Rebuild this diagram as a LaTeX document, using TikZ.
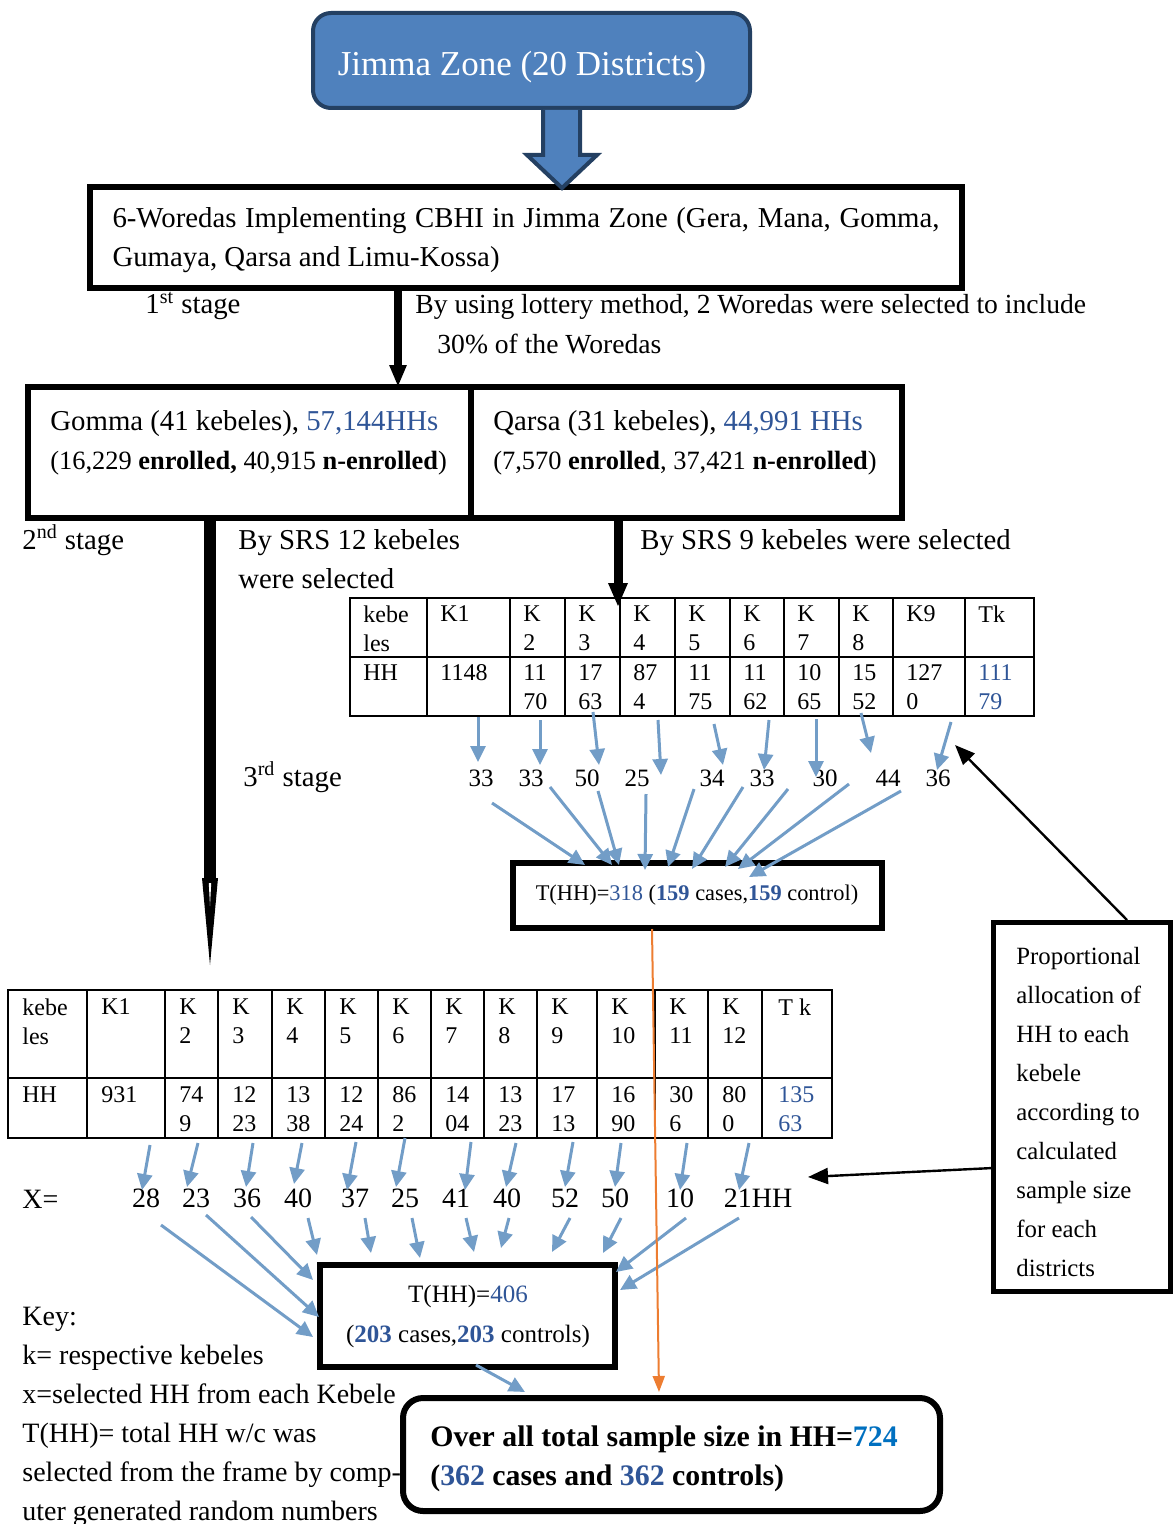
\documentclass[tikz,border=0pt]{standalone}
\usepackage{fontspec}
\setmainfont{Liberation Serif}
\usepackage{tikz}
\usetikzlibrary{positioning,arrows.meta}
\tikzstyle{pixelGrid} = [x = .5pt, y = -.5pt]
\definecolor{zoneFill}{RGB}{79,129,189}
\definecolor{zoneLine}{RGB}{36,64,98}
\definecolor{countBlue}{RGB}{47,85,151}
\definecolor{totalBlue}{RGB}{0,112,192}
\definecolor{pickBlue}{RGB}{114,157,199}
\definecolor{sumOrange}{RGB}{237,125,49}
\tikzstyle{zoneStyle} = [draw=zoneLine, fill=zoneFill, line width=2pt, rounded corners=9pt]
\tikzstyle{zoneText} = [text=white, font=\fontsize{17.5}{21}\selectfont, inner sep=0pt]
\tikzstyle{blockArrowStyle} = [draw=zoneLine, fill=zoneFill, line width=2pt, line join=miter]
\tikzstyle{frameStyle} = [draw, line width=3pt, inner sep=0pt]
\tikzstyle{thinFrameStyle} = [draw, line width=2.5pt, inner sep=0pt]
\tikzstyle{roundFrameStyle} = [draw, line width=3pt, inner sep=0pt, rounded corners=10pt]
\tikzstyle{bodyText} = [font=\fontsize{14.4}{19.5}\selectfont, anchor=base west, inner sep=0pt]
\tikzstyle{splitText} = [font=\fontsize{13.2}{19.5}\selectfont, anchor=base west, inner sep=0pt]
\tikzstyle{keyText} = [font=\fontsize{14}{19.5}\selectfont, anchor=base west, inner sep=0pt]
\tikzstyle{totalText} = [font=\bfseries\fontsize{14.9}{19.5}\selectfont, anchor=base west, inner sep=0pt]
\tikzstyle{boxText} = [font=\fontsize{12.5}{20}\selectfont, inner sep=0pt, align=center]
\tikzstyle{cellStyle} = [font=\fontsize{12}{14.5}\selectfont, anchor=north west, inner sep=0pt, align=left]
\tikzstyle{tableLine} = [line width=.8pt]
\tikzstyle{pickNumber} = [font=\fontsize{12.5}{15}\selectfont, inner sep=0pt]
\tikzstyle{xNumber} = [font=\fontsize{14}{16}\selectfont, inner sep=0pt]
\tikzstyle{pickArrow} = [draw=pickBlue, line width=1.5pt, -{Triangle[length=8pt, width=7.5pt]}]
\tikzstyle{stageArrow} = [line width=4pt, -{Triangle[length=11pt, width=8pt]}]
\tikzstyle{noteArrow} = [line width=1.2pt, -{Triangle[length=10pt, width=8pt]}]
\tikzstyle{sumArrow} = [draw=sumOrange, line width=1pt, -{Triangle[length=8pt, width=6pt]}]
\newcommand{\hh}[1]{\textcolor{countBlue}{#1}}
\newcommand{\frameBox}[6]{\node [#6, minimum width = {(#4 - #2) * .5pt}, minimum height = {(#5 - #3) * .5pt}] (#1) at ({(#2 + #4) / 2}, {(#3 + #5) / 2}) {};}

\begin{document}
\begin{tikzpicture}[pixelGrid]
  \useasboundingbox (0,0) rectangle (1176,1524);

  \frameBox{zone}{313}{13}{750}{108}{zoneStyle}
  \node [zoneText] (zoneName) at (522,67) {Jimma Zone (20 Districts)};
  \frameBox{woreda}{90}{187}{962}{288}{frameStyle}
  \filldraw [blockArrowStyle] (543,110) -- (543,155) -- (527,155) -- (562,188) -- (597,155) -- (580,155) -- (580,110);
  \node [bodyText, anchor=center, text width=413.5pt, align=justify] (woredaText) at (526,240) {6-Woredas Implementing CBHI in Jimma Zone (Gera, Mana, Gomma,\linebreak Gumaya, Qarsa and Limu-Kossa)};

  \node [bodyText] (firstStage) at (145,314) {1\textsuperscript{st} stage};
  \node [bodyText, font=\fontsize{13.8}{19.5}\selectfont] (lotteryOne) at (415,314) {By using lottery method, 2 Woredas were selected to include};
  \node [bodyText, font=\fontsize{13.8}{19.5}\selectfont] (lotteryTwo) at (437,353) {30\% of the Woredas};

  \frameBox{gomma}{28}{387}{471}{518}{frameStyle}
  \frameBox{qarsa}{471}{387}{902}{518}{frameStyle}
  \node [bodyText] (gommaName) at (50,430) {Gomma (41 kebeles), \hh{57,144HHs}};
  \node [splitText] (gommaSplit) at (50,469) {(16,229 \textbf{enrolled,} 40,915 \textbf{n-enrolled})};
  \node [bodyText] (qarsaName) at (493,430) {Qarsa (31 kebeles), \hh{44,991 HHs}};
  \node [splitText] (qarsaSplit) at (493,469) {(7,570 \textbf{enrolled}, 37,421 \textbf{n-enrolled})};

  \coordinate (firstFoot) at (398,290);
  \coordinate (firstTip) at (398,387);
  \draw [stageArrow] (firstFoot) -- (firstTip);

  \node [bodyText] (secondStage) at (22,549) {2\textsuperscript{nd} stage};
  \node [bodyText] (srsGommaOne) at (238,549) {By SRS 12 kebeles};
  \node [bodyText] (srsGommaTwo) at (238,588) {were selected};
  \node [bodyText] (srsQarsa) at (640,549) {By SRS 9 kebeles were selected};
  \node [bodyText] (thirdStage) at (243,786) {3\textsuperscript{rd} stage};

  \draw [tableLine] (350,598) rectangle (1034,716);
  \draw [tableLine] (350,657) -- (1034,657);
  \foreach \col in {427,510,565,620,675,730,784,839,893,965}
    \draw [tableLine] (\col,598) -- (\col,716);
  \foreach \cx/\head/\hhs [count=\idx] in {363/kebe\\les/HH,440/K1/1148,523/K\\2/11\\70,578/K\\3/17\\63,633/K\\4/87\\4,688/K\\5/11\\75,743/K\\6/11\\62,797/K\\7/10\\65,852/K\\8/15\\52,906/K9/127\\0} {
    \node [cellStyle] (upHead\idx) at (\cx,605) {\head};
    \node [cellStyle] (upCount\idx) at (\cx,664) {\hhs};
  }
  \node [cellStyle] (upHeadTk) at (978,605) {Tk};
  \node [cellStyle, text=countBlue] (upCountTk) at (978,664) {111\\79};

  \coordinate (secondFoot) at (618,521);
  \coordinate (secondTip) at (618,607);
  \draw [stageArrow, line width=4.5pt, -{Triangle[length=12pt, width=9pt]}] (secondFoot) -- (secondTip);

  \foreach \px/\val [count=\idx] in {481/33,531/33,587/50,637/25,712/34,762/33,825/30,888/44,938/36}
    \node [pickNumber] (pick\idx) at (\px,778) {\val};
  \foreach \sx/\sy/\ex/\ey [count=\idx] in {478/717/478/762,540/720/540/765,593/712/599/765,658/720/661/775,714/724/723/765,769/720/764/770,816/719/816/777,861/713/871/753,951/722/937/770} {
    \coordinate (pickFrom\idx) at (\sx,\sy);
    \coordinate (pickTo\idx) at (\ex,\ey);
    \draw [pickArrow] (pickFrom\idx) -- (pickTo\idx);
  }

  \frameBox{caseQarsa}{513}{863}{882}{928}{frameStyle}
  \node [boxText, font=\fontsize{11.2}{14}\selectfont] (caseQarsaText) at (697,895) {T(HH)=\hh{318} (\textbf{\hh{159}} cases,\textbf{\hh{159}} control)};
  \foreach \sx/\sy/\ex/\ey [count=\idx] in {492/803/585/865,550/787/612/865,598/791/619/865,646/794/645/870,694/789/668/867,743/787/692/869,788/789/725/867,849/784/738/869,901/791/749/877} {
    \coordinate (sumFrom\idx) at (\sx,\sy);
    \coordinate (sumTo\idx) at (\ex,\ey);
    \draw [pickArrow] (sumFrom\idx) -- (sumTo\idx);
  }

  \coordinate (gommaFoot) at (210,520);
  \coordinate (gommaNeck) at (210,878);
  \coordinate (gommaTip) at (210,965);
  \draw [line width=6pt] (gommaFoot) -- (gommaNeck);
  \fill ([xshift=-4pt]gommaNeck) -- ([xshift=4pt]gommaNeck) -- (gommaTip) -- cycle;
  \fill [white] ([shift={(-1.2,5)}]gommaNeck) -- ([shift={(1.2,5)}]gommaNeck) -- ([yshift=-14pt]gommaNeck) -- cycle;

  \frameBox{allocation}{993}{922}{1170}{1291}{thinFrameStyle}
  \node [cellStyle, font=\fontsize{12.4}{19.5}\selectfont] (allocationText) at (1016,947) {Proportional\\allocation of\\HH to each\\kebele\\according to\\calculated\\sample size\\for each\\districts};
  \coordinate (noteTopFoot) at (1127,920);
  \coordinate (noteTopTip) at (955,745);
  \draw [noteArrow] (noteTopFoot) -- (noteTopTip);

  \draw [tableLine] (8,990) rectangle (832,1138);
  \draw [tableLine] (8,1078) -- (832,1078);
  \foreach \col in {87,165,218,272,325,378,431,484,537,597,655,708,762}
    \draw [tableLine] (\col,990) -- (\col,1138);
  \foreach \cx/\head/\hhs [count=\idx] in {22/kebe\\les/HH,101/K1/931,179/K\\2/74\\9,232/K\\3/12\\23,286/K\\4/13\\38,339/K\\5/12\\24,392/K\\6/86\\2,445/K\\7/14\\04,498/K\\8/13\\23,551/K\\9/17\\13,611/K\\10/16\\90,669/K\\11/30\\6,722/K\\12/80\\0} {
    \node [cellStyle] (lowHead\idx) at (\cx,998) {\head};
    \node [cellStyle] (lowCount\idx) at (\cx,1086) {\hhs};
  }
  \node [cellStyle] (lowHeadTk) at (778,998) {T k};
  \node [cellStyle, text=countBlue] (lowCountTk) at (778,1086) {135\\63};

  \node [keyText] (xLabel) at (22,1208) {X=};
  \foreach \px/\val [count=\idx] in {146/28,196/23,247/36,298/40,355/37,405/25,456/41,507/40,565/52,615/50,680/10}
    \node [xNumber] (xPick\idx) at (\px,1198) {\val};
  \node [xNumber] (xPickLast) at (758,1198) {21HH};
  \foreach \sx/\sy/\ex/\ey [count=\idx] in {150/1145/142/1190,198/1143/187/1187,253/1143/246/1187,302/1143/294/1184,356/1142/347/1190,405/1138/396/1187,471/1142/465/1190,516/1143/506/1187,573/1142/565/1187,621/1143/615/1187,687/1143/680/1190,749/1143/739/1190} {
    \coordinate (xFrom\idx) at (\sx,\sy);
    \coordinate (xTo\idx) at (\ex,\ey);
    \draw [pickArrow] (xFrom\idx) -- (xTo\idx);
  }

  \coordinate (noteSideFoot) at (993,1168);
  \coordinate (noteSideTip) at (808,1177);
  \draw [noteArrow] (noteSideFoot) -- (noteSideTip);

  \frameBox{caseGomma}{320}{1265}{615}{1367}{frameStyle}
  \node [boxText] (caseGommaText) at (468,1316) {T(HH)=\hh{406}\\(\textbf{\hh{203}} cases,\textbf{\hh{203}} controls)};
  \foreach \sx/\sy/\ex/\ey [count=\idx] in {161/1225/313/1337,206/1215/319/1317,251/1217/313/1280,308/1218/317/1255,365/1218/371/1253,412/1218/420/1258,466/1218/474/1252,509/1218/501/1248,570/1218/552/1252,621/1218/603/1253,686/1218/616/1272,739/1218/620/1290} {
    \coordinate (gatherFrom\idx) at (\sx,\sy);
    \coordinate (gatherTo\idx) at (\ex,\ey);
    \draw [pickArrow] (gatherFrom\idx) -- (gatherTo\idx);
  }

  \frameBox{overall}{403}{1398}{940}{1511}{roundFrameStyle}
  \node [totalText] (overallOne) at (430,1446) {Over all total sample size in HH=\textcolor{totalBlue}{724}};
  \node [totalText] (overallTwo) at (430,1485) {(\hh{362} cases and \hh{362} controls)};
  \coordinate (gommaSumFoot) at (476,1365);
  \coordinate (gommaSumTip) at (525,1392);
  \draw [pickArrow] (gommaSumFoot) -- (gommaSumTip);
  \coordinate (orangeFoot) at (652,929);
  \coordinate (orangeTip) at (659,1392);
  \draw [sumArrow] (orangeFoot) -- (orangeTip);

  \foreach \line [count=\idx] in {Key:,k= respective kebeles,x=selected HH from each Kebele,T(HH)= total HH w/c was,selected from the frame by comp-,uter generated random numbers}
    \node [keyText] (keyLine\idx) at (22,{1286 + 39 * \idx}) {\line};
\end{tikzpicture}
\end{document}
